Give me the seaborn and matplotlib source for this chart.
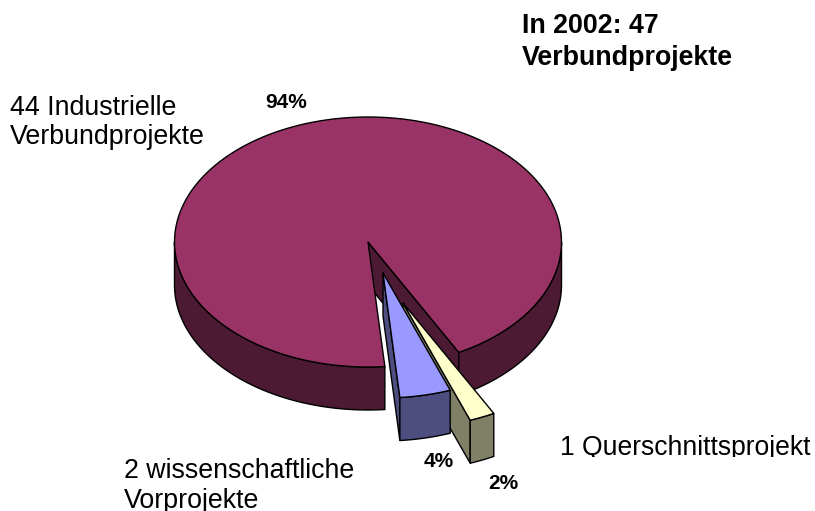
import numpy as np
import matplotlib.pyplot as plt
from matplotlib.patches import Polygon, Rectangle
import seaborn as sns

sns.set_theme(style='white')
plt.rcParams['font.family'] = ['Liberation Sans', 'DejaVu Sans']

# data
projects = [44, 2, 1]
percent_labels = ['94%', '4%', '2%']
slice_colors = ['#993366', '#9999FF', '#FFFFCC']
category_lines = [['44 Industrielle', 'Verbundprojekte'],
                  ['2 wissenschaftliche', 'Vorprojekte'],
                  ['1 Querschnittsprojekt']]
title_lines = ['In 2002: 47', 'Verbundprojekte']

# layout, everything in image pixels
cx, cy = 368, 242
rx, ry = 193.5, 125
depth = 43
first_angle = 5   # where slice 2 begins, degrees from the front of the pie
explode = [(0, 0), (15, 31), (35, 61)]
lw = 1.0

palette = sns.color_palette(slice_colors)
dark = [tuple(c * 0.5 for c in col) for col in palette]

# sweep of each slice from the counts
sweep = np.array(projects) / sum(projects) * 360
start = {1: first_angle, 2: first_angle + sweep[1], 0: first_angle + sweep[1] + sweep[2]}


def rim(i, a0, a1):
    t = np.radians(np.linspace(a0, a1, 200))
    return np.column_stack([cx + explode[i][0] + rx * np.sin(t),
                            cy + explode[i][1] + ry * np.cos(t)])


def draw_slice(ax, i):
    a0, a1 = start[i], start[i] + sweep[i]
    apex = np.array([cx + explode[i][0], cy + explode[i][1]])
    down = np.array([0, depth])
    arc = rim(i, a0, a1)

    # cut face at the start of the slice
    edge = arc[0]
    ax.add_patch(Polygon([apex, edge, edge + down, apex + down], fc=dark[i], ec='black', lw=lw, joinstyle='round'))

    # outer wall, only the part that faces the viewer
    if i == 0:
        walls = [rim(i, a0, 90), rim(i, 270, a1)]
    else:
        walls = [arc]
    for r in walls:
        ax.add_patch(Polygon(np.vstack([r, (r + down)[::-1]]), fc=dark[i], ec='black', lw=lw))

    # top face
    ax.add_patch(Polygon(np.vstack([apex, arc]), fc=palette[i], ec='black', lw=lw, joinstyle='round'))


fig = plt.figure(figsize=(8.15, 5.11), dpi=100)
ax = fig.add_axes([0, 0, 1, 1])
ax.set_xlim(0, 815)
ax.set_ylim(511, 0)
ax.axis('off')

for i in [0, 2, 1]:
    draw_slice(ax, i)

big = 19.3
small = 15
ax.text(522, 33, title_lines[0], fontsize=big, fontweight='bold', color='black')
ax.text(522, 65, title_lines[1], fontsize=big, fontweight='bold', color='black')
ax.text(10, 115, category_lines[0][0], fontsize=big, color='black')
ax.text(10, 144, category_lines[0][1], fontsize=big, color='black')
ax.text(124, 478, category_lines[1][0], fontsize=big, color='black')
ax.text(124, 508, category_lines[1][1], fontsize=big, color='black')
t = ax.text(560, 455, category_lines[2][0], fontsize=19.1, color='black')
# descenders are cut off in the original
t.set_clip_path(Rectangle((540, 420), 275, 37, transform=ax.transData))
t.set_clip_on(True)
ax.text(265, 108, percent_labels[0], fontsize=small, fontweight='bold', color='black')
ax.text(424, 467, percent_labels[1], fontsize=small, fontweight='bold', color='black')
ax.text(488, 489, percent_labels[2], fontsize=small, fontweight='bold', color='black')

plt.savefig('out.png', dpi=100)
